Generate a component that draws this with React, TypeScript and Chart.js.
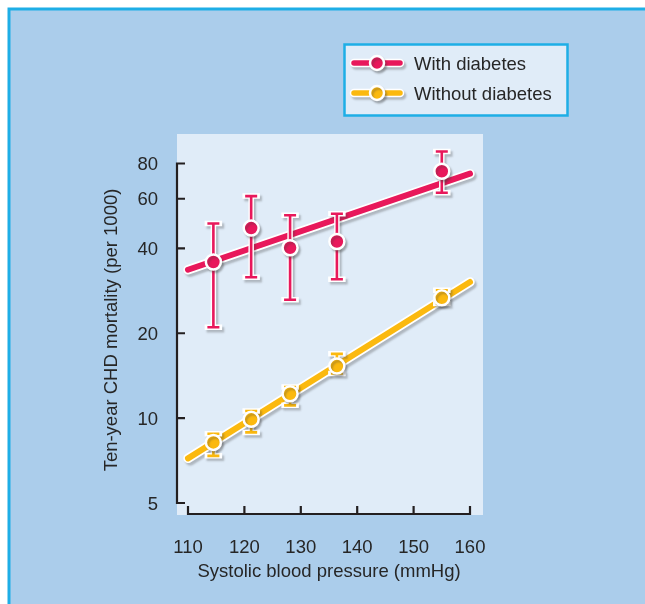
import { useEffect, useRef } from "react";
import { Chart, registerables } from "chart.js";

Chart.register(...registerables);

// Systolic blood pressure group means (mmHg)
const bpGroups = [114.5, 121.2, 128.1, 136.4, 155.0];

// Ten-year CHD mortality per 1000, with diabetes
const withDiabetesRate = [35.8, 47.2, 40.2, 42.3, 75.1];
const withDiabetesLow = [21.0, 31.6, 26.3, 31.1, 63.0];
const withDiabetesHigh = [49.0, 61.3, 52.4, 53.1, 88.2];

// Ten-year CHD mortality per 1000, without diabetes
const withoutDiabetesRate = [8.2, 9.9, 12.2, 15.3, 26.7];
const withoutDiabetesLow = [7.35, 8.9, 11.1, 14.4, 25.5];
const withoutDiabetesHigh = [8.8, 10.6, 12.9, 16.9, 28.4];

// Fitted regression lines (end points)
const fitBP = [110, 160];
const withDiabetesFit = [33.6, 73.6];
const withoutDiabetesFit = [7.2, 30.4];

const xTicks = [110, 120, 130, 140, 150, 160];
const yTicks = [5, 10, 20, 40, 60, 80];

const seriesLabels = ["With diabetes", "Without diabetes"];
const xTitle = "Systolic blood pressure (mmHg)";
const yTitle = "Ten-year CHD mortality (per 1000)";

const RED = "#e8185b";
const YELLOW = "#fbb90f";
const INK = "#262626";
const AXIS = "#231f20";
const FRAME = "#1eaee6";
const BACK = "#abcdeb";
const PANEL = "#e0ecf8";
const FONT = '"Liberation Sans", Arial, sans-serif';
const SHADOW = "rgba(60, 60, 60, 0.3)";

function shadowed(ctx: CanvasRenderingContext2D, fn: () => void) {
  ctx.save();
  ctx.shadowColor = SHADOW;
  ctx.shadowOffsetX = 2;
  ctx.shadowOffsetY = 2.5;
  ctx.shadowBlur = 2;
  fn();
  ctx.restore();
}

function drawErrorBars(
  ctx: CanvasRenderingContext2D,
  xs: number[],
  tops: number[],
  bots: number[],
  color: string
) {
  const cap = 6;
  const trace = () => {
    ctx.beginPath();
    xs.forEach((x, i) => {
      ctx.moveTo(x, tops[i]);
      ctx.lineTo(x, bots[i]);
      ctx.moveTo(x - cap, tops[i]);
      ctx.lineTo(x + cap, tops[i]);
      ctx.moveTo(x - cap, bots[i]);
      ctx.lineTo(x + cap, bots[i]);
    });
  };
  shadowed(ctx, () => {
    ctx.strokeStyle = "#ffffff";
    ctx.lineWidth = 5.5;
    ctx.lineCap = "square";
    trace();
    ctx.stroke();
  });
  ctx.save();
  ctx.strokeStyle = color;
  ctx.lineWidth = 2.6;
  ctx.lineCap = "butt";
  trace();
  ctx.stroke();
  ctx.restore();
}

const decorations = {
  id: "decorations",
  beforeDraw(chart: any) {
    const ctx: CanvasRenderingContext2D = chart.ctx;
    const { width, height } = chart;
    ctx.save();
    ctx.fillStyle = "#ffffff";
    ctx.fillRect(0, 0, width, height);
    ctx.fillStyle = FRAME;
    ctx.fillRect(7.5, 7.5, width, height);
    ctx.fillStyle = BACK;
    ctx.fillRect(10.5, 10.5, width, height);
    ctx.fillStyle = PANEL;
    ctx.fillRect(177, 134, 306, 381);
    ctx.restore();
  },
  beforeDatasetsDraw(chart: any) {
    const ctx: CanvasRenderingContext2D = chart.ctx;
    const xs = chart.scales.x;
    const ys = chart.scales.y;
    const xL = xs.getPixelForValue(xTicks[0]);
    const xR = xs.getPixelForValue(xTicks[xTicks.length - 1]);
    const yT = ys.getPixelForValue(yTicks[yTicks.length - 1]);
    const yB = ys.getPixelForValue(yTicks[0]);
    const axisX = xL - 11;
    const axisY = yB + 11;
    const tick = 8;

    ctx.save();
    ctx.strokeStyle = AXIS;
    ctx.lineWidth = 2.2;
    ctx.lineJoin = "miter";
    ctx.lineCap = "butt";

    // vertical axis with inward ticks
    ctx.beginPath();
    ctx.moveTo(axisX + tick, yT);
    ctx.lineTo(axisX, yT);
    ctx.lineTo(axisX, yB);
    ctx.lineTo(axisX + tick, yB);
    yTicks.slice(1, -1).forEach((t) => {
      const y = ys.getPixelForValue(t);
      ctx.moveTo(axisX, y);
      ctx.lineTo(axisX + tick, y);
    });
    ctx.stroke();

    // horizontal axis with upward ticks
    ctx.beginPath();
    ctx.moveTo(xL, axisY - tick);
    ctx.lineTo(xL, axisY);
    ctx.lineTo(xR, axisY);
    ctx.lineTo(xR, axisY - tick);
    xTicks.slice(1, -1).forEach((t) => {
      const x = xs.getPixelForValue(t);
      ctx.moveTo(x, axisY);
      ctx.lineTo(x, axisY - tick);
    });
    ctx.stroke();

    // tick labels
    ctx.fillStyle = INK;
    ctx.font = `18.5px ${FONT}`;
    ctx.textBaseline = "alphabetic";
    ctx.textAlign = "right";
    yTicks.forEach((t) => {
      ctx.fillText(String(t), 158, ys.getPixelForValue(t) + 6.5);
    });
    ctx.textAlign = "center";
    xTicks.forEach((t) => {
      ctx.fillText(String(t), xs.getPixelForValue(t), 552.5);
    });

    // axis titles
    ctx.fillText(xTitle, (xL + xR) / 2, 577);
    ctx.translate(117, 330);
    ctx.rotate(-Math.PI / 2);
    ctx.fillText(yTitle, 0, 0);
    ctx.restore();
  },
  beforeDatasetDraw(chart: any, args: any) {
    const ctx: CanvasRenderingContext2D = chart.ctx;
    const ds = chart.data.datasets[args.index];
    const pts = args.meta.data;
    if (ds.fitLine) {
      shadowed(ctx, () => {
        ctx.strokeStyle = "#ffffff";
        ctx.lineWidth = 9.5;
        ctx.lineCap = "round";
        ctx.beginPath();
        pts.forEach((p: any, i: number) => (i ? ctx.lineTo(p.x, p.y) : ctx.moveTo(p.x, p.y)));
        ctx.stroke();
      });
    }
    if (ds.low) {
      const ys = chart.scales.y;
      drawErrorBars(
        ctx,
        pts.map((p: any) => p.x),
        ds.high.map((v: number) => ys.getPixelForValue(v)),
        ds.low.map((v: number) => ys.getPixelForValue(v)),
        ds.borderColor
      );
      ctx.save();
      ctx.shadowColor = SHADOW;
      ctx.shadowOffsetX = 2;
      ctx.shadowOffsetY = 2.5;
      ctx.shadowBlur = 2;
    }
  },
  afterDatasetDraw(chart: any, args: any) {
    const ds = chart.data.datasets[args.index];
    if (ds.low) chart.ctx.restore();
  },
  afterDraw(chart: any) {
    const ctx: CanvasRenderingContext2D = chart.ctx;
    ctx.save();
    ctx.fillStyle = PANEL;
    ctx.fillRect(344, 44, 224, 72);
    ctx.strokeStyle = FRAME;
    ctx.lineWidth = 2.5;
    ctx.strokeRect(344.5, 44.5, 223, 71);

    [RED, YELLOW].forEach((color, i) => {
      const y = 63 + i * 30;
      shadowed(ctx, () => {
        ctx.strokeStyle = "#ffffff";
        ctx.lineWidth = 8.5;
        ctx.lineCap = "round";
        ctx.beginPath();
        ctx.moveTo(354, y);
        ctx.lineTo(400, y);
        ctx.stroke();
      });
      ctx.strokeStyle = color;
      ctx.lineWidth = 5.5;
      ctx.lineCap = "round";
      ctx.beginPath();
      ctx.moveTo(354, y);
      ctx.lineTo(400, y);
      ctx.stroke();
      shadowed(ctx, () => {
        ctx.beginPath();
        ctx.arc(377, y, 7, 0, Math.PI * 2);
        ctx.fillStyle = color;
        ctx.fill();
        ctx.lineWidth = 2.5;
        ctx.strokeStyle = "#ffffff";
        ctx.stroke();
      });
      ctx.fillStyle = INK;
      ctx.font = `18.5px ${FONT}`;
      ctx.textAlign = "left";
      ctx.textBaseline = "alphabetic";
      ctx.fillText(seriesLabels[i], 414, y + 6.5);
    });
    ctx.restore();
  },
};

export default function App() {
  const canvasRef = useRef<HTMLCanvasElement | null>(null);

  useEffect(() => {
    if (!canvasRef.current) return;
    const fit = (vals: number[]) => fitBP.map((x, i) => ({ x, y: vals[i] }));
    const pts = (vals: number[]) => bpGroups.map((x, i) => ({ x, y: vals[i] }));

    const pointStyle = (color: string) => ({
      showLine: false,
      borderColor: color,
      pointRadius: 7.5,
      pointBackgroundColor: color,
      pointBorderColor: "#ffffff",
      pointBorderWidth: 2.5,
      clip: false,
    });

    const chart = new Chart(canvasRef.current, {
      type: "line",
      data: {
        datasets: [
          {
            label: seriesLabels[0] + " fit",
            data: fit(withDiabetesFit),
            borderColor: RED,
            borderWidth: 6,
            borderCapStyle: "round",
            pointRadius: 0,
            clip: false,
            order: 4,
            fitLine: true,
          } as any,
          {
            label: seriesLabels[0],
            data: pts(withDiabetesRate),
            ...pointStyle(RED),
            order: 3,
            low: withDiabetesLow,
            high: withDiabetesHigh,
          } as any,
          {
            label: seriesLabels[1] + " fit",
            data: fit(withoutDiabetesFit),
            borderColor: YELLOW,
            borderWidth: 6,
            borderCapStyle: "round",
            pointRadius: 0,
            clip: false,
            order: 2,
            fitLine: true,
          } as any,
          {
            label: seriesLabels[1],
            data: pts(withoutDiabetesRate),
            ...pointStyle(YELLOW),
            order: 1,
            low: withoutDiabetesLow,
            high: withoutDiabetesHigh,
          } as any,
        ],
      },
      options: {
        animation: false,
        responsive: false,
        devicePixelRatio: 1,
        layout: { padding: { left: 188, right: 175, top: 163.5, bottom: 101 } },
        plugins: {
          legend: { display: false },
          tooltip: { enabled: false },
        },
        events: [],
        scales: {
          x: { type: "linear", min: 110, max: 160, display: false },
          y: { type: "logarithmic", min: 5, max: 80, display: false },
        },
      },
      plugins: [decorations],
    });
    return () => chart.destroy();
  }, []);

  return (
    <div style={{ position: "fixed", left: 0, top: 0, width: 645, height: 604 }}>
      <canvas ref={canvasRef} width={645} height={604} style={{ display: "block" }} />
    </div>
  );
}
